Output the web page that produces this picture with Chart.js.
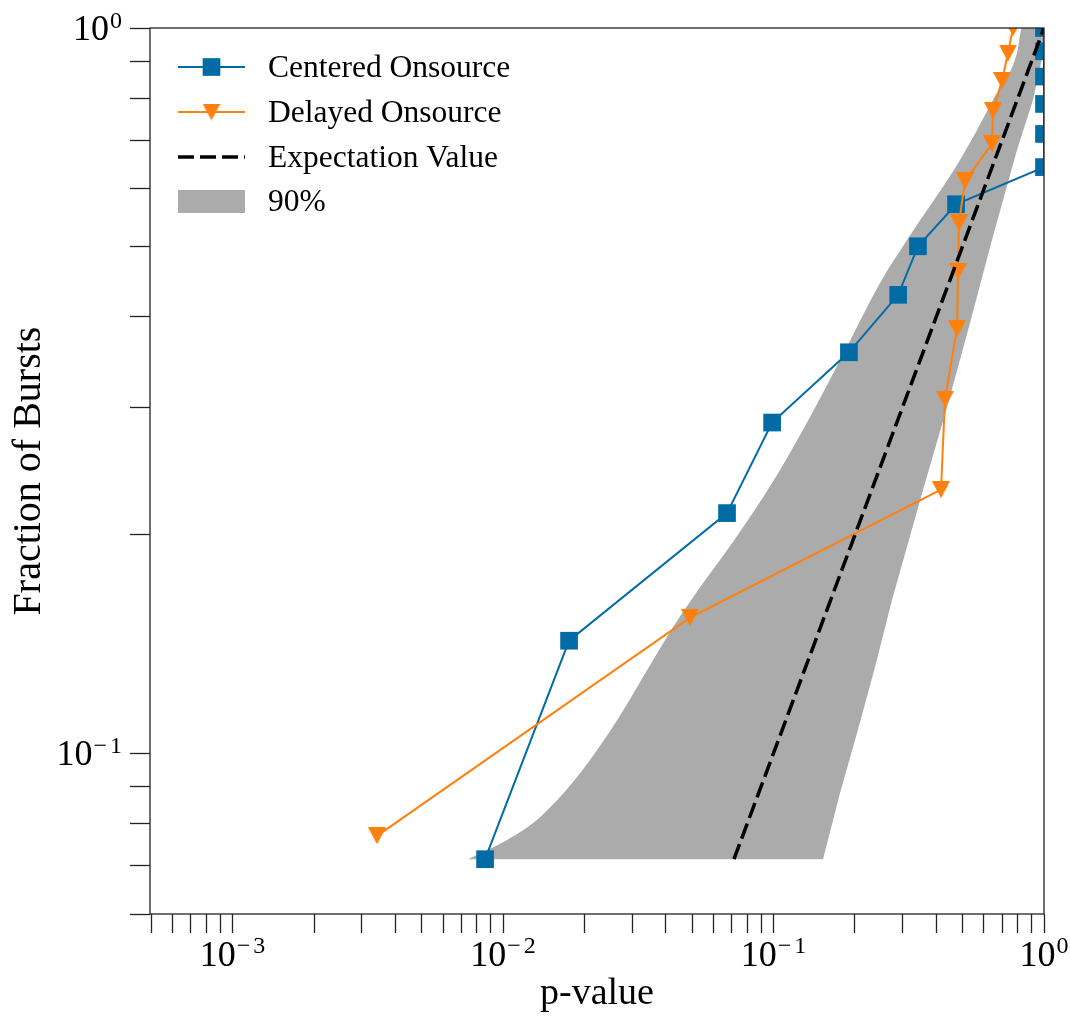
<!DOCTYPE html>
<html>
<head>
<meta charset="utf-8">
<title>Fraction of Bursts vs p-value</title>
<script src="https://cdn.jsdelivr.net/npm/chart.js@4.4.1/dist/chart.umd.min.js"></script>
<style>
  html, body { margin: 0; padding: 0; background: #fff; }
  #wrap { width: 1070px; height: 1017px; }
</style>
</head>
<body>
<div id="wrap"><canvas id="chart" width="1070" height="1017"></canvas></div>
<script>
// values (x = p-value, y = fraction of bursts)
const centeredP    = [0.00858, 0.01754, 0.0673, 0.0988, 0.190, 0.289, 0.342, 0.473, 1, 1, 1, 1, 1, 1];
const centeredFrac = [0.0714, 0.1429, 0.2143, 0.2857, 0.3571, 0.4286, 0.5, 0.5714, 0.6429, 0.7143, 0.7857, 0.8571, 0.9286, 1.0];

const delayedP    = [0.00342, 0.0491, 0.416, 0.4305, 0.477, 0.481, 0.485, 0.5105, 0.642, 0.648, 0.6995, 0.736, 0.768];
const delayedFrac = [0.0769, 0.1538, 0.2308, 0.3077, 0.3846, 0.4615, 0.5385, 0.6154, 0.6923, 0.7692, 0.8462, 0.9231, 1.0];

const expectP    = [0.0714, 1];
const expectFrac = [0.0714, 1];

// 90% band: upper edge (left boundary + top), lower edge (bottom + right boundary)
const bandUpperP    = [0.00742, 0.01035, 0.0137, 0.01926, 0.02639, 0.03405, 0.04251, 0.0535, 0.06342, 0.08186, 0.1057, 0.1364, 0.1761, 0.2475, 0.3115, 0.4893, 0.6478, 0.7947, 0.829, 1.0];
const bandUpperFrac = [0.0714, 0.0759, 0.0816, 0.0938, 0.111, 0.1301, 0.1492, 0.1694, 0.1846, 0.2116, 0.2457, 0.2907, 0.3483, 0.4448, 0.51, 0.6576, 0.7956, 0.9236, 1.0, 1.0];
const bandLowerP    = [0.00742, 0.1524, 0.1761, 0.2036, 0.2372, 0.2742, 0.357, 0.4381, 0.5326, 0.6422, 0.7947, 0.9106, 1.0];
const bandLowerFrac = [0.0714, 0.0714, 0.0881, 0.1066, 0.1314, 0.1626, 0.2306, 0.3, 0.3918, 0.51, 0.6787, 0.7956, 0.9355];

// major tick labels: value and exponent text
const xMajorTicks = [0.001, 0.01, 0.1, 1];
const xMajorExp   = ['−3', '−2', '−1', '0'];
const yMajorTicks = [0.1, 1];
const yMajorExp   = ['−1', '0'];

const BLUE = '#006BA4', ORANGE = '#FF800E', GREY = '#ABABAB';
const FONT = "'Liberation Serif', 'DejaVu Serif', serif";

const pts = (xs, ys) => xs.map((x, i) => ({ x, y: ys[i] }));

// downward triangle marker, centred on its bounding box
function makeTriangle(color, w, h) {
  const c = document.createElement('canvas');
  c.width = w; c.height = h;
  const g = c.getContext('2d');
  g.fillStyle = color;
  g.beginPath(); g.moveTo(0, 0); g.lineTo(w, 0); g.lineTo(w / 2, h); g.closePath(); g.fill();
  return c;
}
const triDown = makeTriangle(ORANGE, 18, 17);

// 1..9 x 10^n ticks inside the range
function logTicks(min, max) {
  const out = [];
  for (let e = Math.floor(Math.log10(min)); e <= Math.ceil(Math.log10(max)); e++) {
    for (let m = 1; m <= 9; m++) {
      const v = parseFloat((m * Math.pow(10, e)).toPrecision(6));
      if (v >= min * 0.9999 && v <= max * 1.0001) out.push({ value: v });
    }
  }
  return out;
}

// "10" with superscript exponent
function drawPow(ctx, exp, x, baseY, supY, align) {
  ctx.font = '36px ' + FONT;
  const wb = ctx.measureText('10').width;
  ctx.font = '24px ' + FONT;
  const neg = exp.startsWith('−');
  const digits = neg ? exp.slice(1) : exp;
  const wm = neg ? ctx.measureText('−').width + 3 : 0;
  const wd = ctx.measureText(digits).width;
  const total = wb + 1 + wm + wd;
  let x0 = align === 'right' ? x - total : x - total / 2;
  ctx.textAlign = 'left';
  ctx.textBaseline = 'alphabetic';
  ctx.fillStyle = '#000';
  ctx.font = '36px ' + FONT;
  ctx.fillText('10', x0, baseY);
  ctx.font = '24px ' + FONT;
  let xs = x0 + wb + 1;
  if (neg) { ctx.fillText('−', xs, supY); xs += wm; }
  ctx.fillText(digits, xs, supY);
}

const framePlugin = {
  id: 'frameAndLabels',
  afterDatasetsDraw(chart) {
    const { ctx, chartArea: a } = chart;
    ctx.save();
    ctx.strokeStyle = '#222';
    ctx.lineWidth = 1.3;
    ctx.strokeRect(a.left, a.top, a.right - a.left, a.bottom - a.top);
    ctx.restore();
  },
  afterDraw(chart) {
    const { ctx, chartArea: a, scales } = chart;
    ctx.save();
    xMajorTicks.forEach((v, i) => {
      const px = scales.x.getPixelForValue(v);
      drawPow(ctx, xMajorExp[i], px, a.bottom + 52, a.bottom + 39, 'center');
    });
    yMajorTicks.forEach((v, i) => {
      const py = scales.y.getPixelForValue(v);
      drawPow(ctx, yMajorExp[i], a.left - 28, py + 12, py, 'right');
    });

    // legend, top left inside the axes
    const lx0 = a.left + 28, lx1 = a.left + 95, lxm = (lx0 + lx1) / 2, tx = a.left + 118;
    const rows = [a.top + 39, a.top + 84, a.top + 129, a.top + 173];
    const ds = chart.data.datasets;
    const byLabel = l => ds.find(d => d.label === l);
    const entries = ['Centered Onsource', 'Delayed Onsource', 'Expectation Value', '90%'];
    entries.forEach((label, i) => {
      const d = byLabel(label);
      const y = rows[i];
      if (label === '90%') {
        ctx.fillStyle = d.backgroundColor;
        ctx.fillRect(lx0, y - 11, lx1 - lx0, 23);
      } else {
        ctx.strokeStyle = d.borderColor;
        ctx.lineWidth = d.borderWidth;
        ctx.setLineDash(d.borderDash || []);
        ctx.beginPath(); ctx.moveTo(lx0, y); ctx.lineTo(lx1, y); ctx.stroke();
        ctx.setLineDash([]);
        if (d.pointStyle === 'rect') {
          const s = d.pointRadius * Math.SQRT1_2;
          ctx.fillStyle = d.pointBackgroundColor;
          ctx.fillRect(lxm - s, y - s, 2 * s, 2 * s);
        } else if (d.pointStyle instanceof HTMLCanvasElement) {
          const im = d.pointStyle;
          ctx.drawImage(im, lxm - im.width / 2, y - im.height / 2);
        }
      }
      ctx.fillStyle = '#000';
      ctx.font = '31.5px ' + FONT;
      ctx.textAlign = 'left';
      ctx.textBaseline = 'alphabetic';
      ctx.fillText(label, tx, y + 10);
    });
    ctx.restore();
  }
};

const tickGrid = len => ({
  drawOnChartArea: false, drawTicks: true, tickLength: len,
  tickColor: '#222', tickWidth: 1.3, color: '#222'
});

new Chart(document.getElementById('chart'), {
  type: 'scatter',
  data: {
    datasets: [
      {
        label: 'Expectation Value', data: pts(expectP, expectFrac), showLine: true,
        borderColor: '#000', borderWidth: 3.5, borderDash: [16, 6], pointRadius: 0, clip: 0
      },
      {
        label: 'Delayed Onsource', data: pts(delayedP, delayedFrac), showLine: true,
        borderColor: ORANGE, borderWidth: 2, pointStyle: triDown, pointRadius: 9,
        pointBackgroundColor: ORANGE, pointBorderWidth: 0, clip: 0
      },
      {
        label: 'Centered Onsource', data: pts(centeredP, centeredFrac), showLine: true,
        borderColor: BLUE, borderWidth: 2, pointStyle: 'rect', pointRadius: 12.5,
        pointBackgroundColor: BLUE, pointBorderColor: BLUE, pointBorderWidth: 0, clip: 0
      },
      {
        label: '90%', data: pts(bandUpperP, bandUpperFrac), showLine: true,
        borderWidth: 0, borderColor: 'rgba(0,0,0,0)', pointRadius: 0,
        cubicInterpolationMode: 'monotone',
        backgroundColor: GREY, fill: '+1'
      },
      {
        label: 'band lower', data: pts(bandLowerP, bandLowerFrac), showLine: true,
        borderWidth: 0, borderColor: 'rgba(0,0,0,0)', pointRadius: 0, fill: false
      }
    ]
  },
  options: {
    responsive: false,
    animation: false,
    events: [],
    layout: { padding: { left: 0, right: 26, top: 28, bottom: 0 } },
    plugins: { legend: { display: false }, tooltip: { enabled: false } },
    scales: {
      x: {
        type: 'logarithmic', min: 4.95e-4, max: 1,
        border: { display: false },
        grid: tickGrid(19),
        ticks: { display: false, autoSkip: false },
        title: { display: true, text: 'p-value', color: '#000', font: { family: FONT, size: 38 }, padding: 0 },
        afterBuildTicks: s => { s.ticks = logTicks(s.min, s.max); },
        afterFit: s => { s.height = 103; }
      },
      y: {
        type: 'logarithmic', min: 0.06, max: 1,
        border: { display: false },
        grid: tickGrid(20),
        ticks: { display: false, autoSkip: false },
        title: { display: true, text: 'Fraction of Bursts', color: '#000', font: { family: FONT, size: 40 }, padding: { top: 5, bottom: 0 } },
        afterBuildTicks: s => { s.ticks = logTicks(s.min, s.max); },
        afterFit: s => { s.width = 150; }
      }
    }
  },
  plugins: [framePlugin]
});
</script>
</body>
</html>
